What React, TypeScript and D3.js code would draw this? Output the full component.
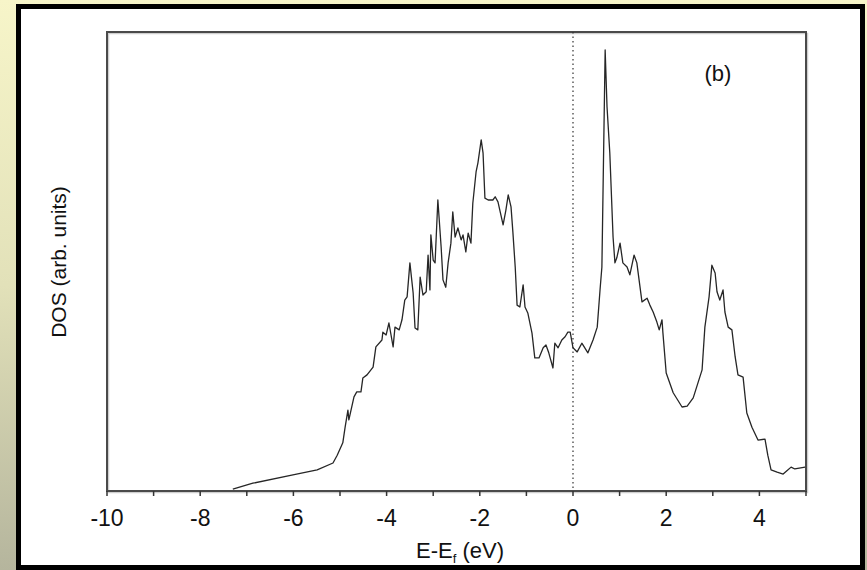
import React from "react";
import * as d3 from "d3";

const width = 867;
const height = 570;
const margin = { top: 32, right: 61, bottom: 79, left: 107 };

// energy (eV) relative to the Fermi level
const energy = [
  -7.3, -6.87, -6.01, -5.49, -5.15, -5.06, -4.94, -4.89, -4.83, -4.81, -4.7, -4.64, -4.55, -4.51,
  -4.42, -4.29, -4.23, -4.1, -4.08, -4.01, -3.95, -3.86, -3.82, -3.73, -3.67, -3.61, -3.56, -3.5,
  -3.43, -3.39, -3.33, -3.28, -3.22, -3.15, -3.11, -3.07, -3.05, -3.0, -2.96, -2.9, -2.83, -2.79,
  -2.73, -2.68, -2.62, -2.58, -2.53, -2.47, -2.4, -2.36, -2.3, -2.25, -2.19, -2.15, -2.08, -2.04,
  -1.97, -1.93, -1.89, -1.82, -1.72, -1.67, -1.61, -1.5, -1.44, -1.39, -1.33, -1.29, -1.24, -1.2,
  -1.14, -1.07, -1.03, -0.97, -0.88, -0.82, -0.73, -0.64, -0.58, -0.52, -0.43, -0.39, -0.32, -0.24,
  -0.17, -0.11, -0.06, 0.0, 0.09, 0.19, 0.32, 0.43, 0.52, 0.58, 0.62, 0.69, 0.73, 0.79, 0.86, 0.9,
  0.94, 1.01, 1.07, 1.16, 1.22, 1.31, 1.37, 1.48, 1.59, 1.65, 1.72, 1.8, 1.85, 1.91, 1.93, 2.0,
  2.15, 2.34, 2.45, 2.58, 2.68, 2.77, 2.83, 2.92, 2.98, 3.05, 3.09, 3.15, 3.22, 3.26, 3.33, 3.41,
  3.48, 3.54, 3.65, 3.73, 3.84, 3.97, 4.12, 4.18, 4.25, 4.38, 4.51, 4.59, 4.68, 4.76, 4.98
];

// density of states, arbitrary units
const dos = [
  0.4, 1.7, 3.5, 4.6, 6.1, 7.8, 10.5, 13.9, 17.6, 15.5, 20.5, 21.6, 21.6, 24.6,
  25.3, 27.0, 31.4, 32.9, 34.6, 34.0, 36.6, 31.4, 35.7, 35.1, 37.3, 41.6, 42.3, 49.7,
  43.1, 35.5, 35.1, 46.6, 42.7, 43.4, 51.4, 43.8, 55.8, 50.3, 49.7, 63.4, 53.2, 46.0,
  44.4, 49.7, 54.0, 60.8, 55.3, 57.3, 54.7, 55.8, 52.1, 56.2, 54.0, 62.7, 69.5, 71.5,
  76.5, 73.6, 63.8, 63.4, 63.4, 64.1, 63.0, 58.0, 61.2, 64.5, 61.9, 56.4, 48.8, 40.5,
  40.1, 44.9, 40.1, 38.8, 34.4, 29.0, 29.0, 31.2, 31.8, 30.1, 26.8, 32.2, 31.2, 32.9,
  33.6, 34.6, 34.6, 31.2, 30.3, 32.2, 30.1, 32.9, 35.7, 43.8, 48.8, 96.1, 83.7, 73.6, 55.3, 49.7,
  50.8, 54.0, 49.7, 48.8, 47.1, 51.4, 49.7, 41.2, 42.0, 40.5, 39.0, 36.8, 35.1, 37.3, 34.4, 25.7,
  21.4, 18.3, 18.5, 20.3, 23.5, 26.4, 35.7, 42.3, 49.2, 47.5, 43.4, 41.6, 43.8, 39.0, 35.7, 35.1,
  29.2, 25.3, 24.8, 17.0, 13.9, 11.1, 11.3, 7.8, 4.6, 4.1, 3.7, 4.4, 5.2, 4.8, 5.2
];

const xTicks = d3.range(-10, 6, 1);
const xTickLabels = [-10, -8, -6, -4, -2, 0, 2, 4];

const font = "Liberation Sans, Arial, sans-serif";

export default function App() {
  const x = d3.scaleLinear().domain([-10, 5]).range([margin.left, width - margin.right]);
  const y = d3.scaleLinear().domain([0, 100]).range([height - margin.bottom, margin.top]);

  const points: [number, number][] = energy.map((e, i) => [e, dos[i]]);
  const line = d3.line<[number, number]>().x(d => x(d[0])).y(d => y(d[1]));

  const x0 = margin.left;
  const x1 = width - margin.right;
  const y0 = height - margin.bottom;
  const y1 = margin.top;

  return (
    <svg width={width} height={height} style={{ position: "absolute", left: 0, top: 0 }}>
      <defs>
        <linearGradient id="bg" x1="0" y1="0" x2="0" y2="1">
          <stop offset="0%" stopColor="#f7f5c9" />
          <stop offset="50%" stopColor="#e2e1b9" />
          <stop offset="100%" stopColor="#b5b59d" />
        </linearGradient>
      </defs>
      <rect x={0} y={0} width={width} height={height} fill="url(#bg)" />
      <rect x={18.5} y={6.5} width={844} height={561} fill="#fff" stroke="#000" strokeWidth={5} />

      {/* plot frame */}
      <rect x={x0 + 1.5} y={y1 + 1.5} width={x1 - x0} height={y0 - y1} fill="none" stroke="#cfcfcf" strokeWidth={1.5} />
      <rect x={x0} y={y1} width={x1 - x0} height={y0 - y1} fill="none" stroke="#4a4a4a" strokeWidth={2} />

      {/* Fermi level */}
      <line x1={x(0)} x2={x(0)} y1={y1} y2={y0} stroke="#333" strokeWidth={1.2} strokeDasharray="1.5,3" />

      {xTicks.map(t => (
        <line key={t} x1={x(t)} x2={x(t)} y1={y0} y2={y0 + 5} stroke="#333" strokeWidth={1.5} />
      ))}
      {xTickLabels.map(t => (
        <text key={t} x={x(t)} y={526} textAnchor="middle" fontFamily={font} fontSize={23} fill="#111">
          {t}
        </text>
      ))}

      <path d={line(points) || ""} fill="none" stroke="#262626" strokeWidth={1.3} strokeLinejoin="round" />

      <text x={718} y={81} textAnchor="middle" fontFamily={font} fontSize={22} fill="#111">(b)</text>

      <text x={460} y={558} textAnchor="middle" fontFamily={font} fontSize={22} fill="#111">
        E-E<tspan fontSize={13} dy={5}>f</tspan><tspan dy={-5}> (eV)</tspan>
      </text>

      <text transform="translate(66,262) rotate(-90)" textAnchor="middle" fontFamily={font} fontSize={21} fill="#111">
        DOS (arb. units)
      </text>
    </svg>
  );
}
